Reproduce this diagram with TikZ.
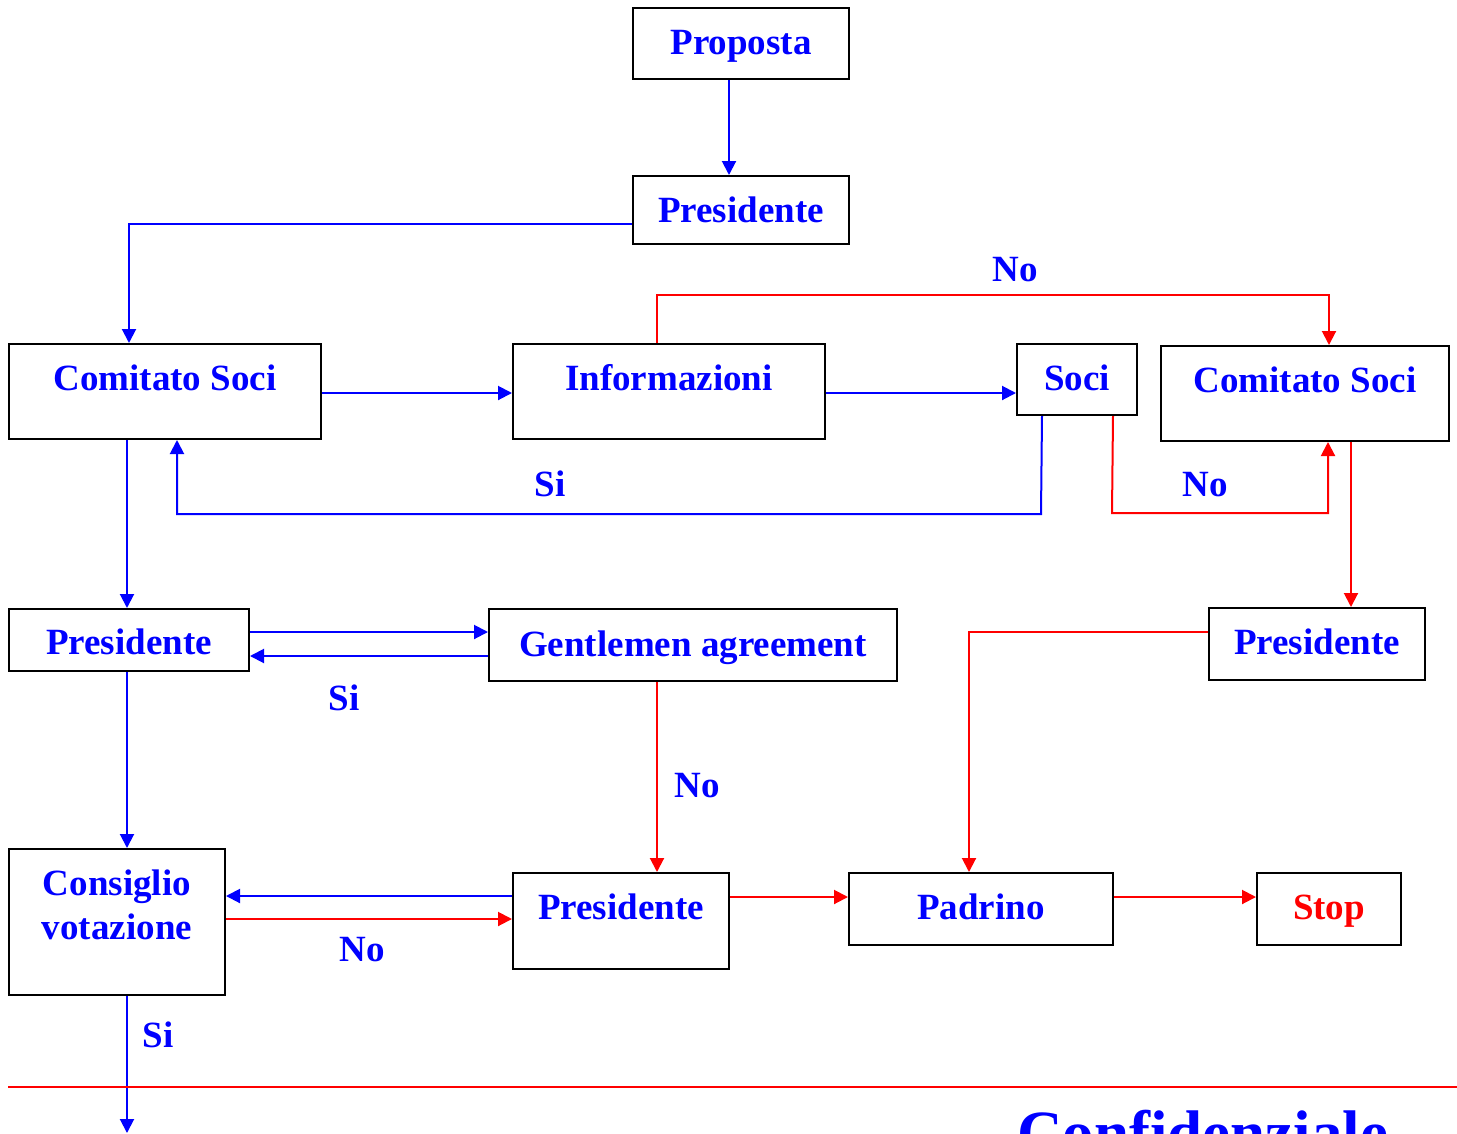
\documentclass[tikz,border=0pt]{standalone}
\usepackage{fontspec}
\setmainfont{Liberation Serif}
\usetikzlibrary{arrows.meta,calc}
\definecolor{fblue}{RGB}{0,0,255}
\definecolor{fred}{RGB}{255,0,0}
\tikzset{
  box/.style={draw=black, line width=2pt, inner sep=0pt, fill=white},
  txt/.style={font=\fontsize{37}{44}\selectfont\bfseries, text=fblue, inner sep=0pt, anchor=base},
  bline/.style={draw=fblue, line width=2pt},
  rline/.style={draw=fred, line width=2pt},
  barr/.style={bline, -{Triangle[length=14pt,width=14pt]}},
  rarr/.style={rline, -{Triangle[length=14pt,width=14pt]}},
}
\begin{document}
\begin{tikzpicture}[x=1pt,y=-1pt]
\useasboundingbox[fill=white] (0,0) rectangle (1457,1133);
% boxes
\node[box, minimum width=216pt, minimum height=71pt] (prop) at (741,43.5) {};
\node[box, minimum width=216pt, minimum height=68pt] (pres1) at (741,210) {};
\node[box, minimum width=312pt, minimum height=95pt] (cs1) at (165,391.5) {};
\node[box, minimum width=312pt, minimum height=95pt] (info) at (669,391.5) {};
\node[box, minimum width=120pt, minimum height=71pt] (soci) at (1077,379.5) {};
\node[box, minimum width=288pt, minimum height=95pt] (cs2) at (1305,393.5) {};
\node[box, minimum width=216pt, minimum height=72pt] (pres2) at (1317,644) {};
\node[box, minimum width=240pt, minimum height=62pt] (presL) at (129,640) {};
\node[box, minimum width=408pt, minimum height=72pt] (ga) at (693,645) {};
\node[box, minimum width=216pt, minimum height=146pt] (cons) at (117,922) {};
\node[box, minimum width=216pt, minimum height=96pt] (presM) at (621,921) {};
\node[box, minimum width=264pt, minimum height=72pt] (padr) at (981,909) {};
\node[box, minimum width=144pt, minimum height=72pt] (stop) at (1329,909) {};
% box texts
\node[txt] (tprop) at (741,54) {Proposta};
\node[txt] (tpres1) at (741,222) {Presidente};
\node[txt] (tcs1) at (165,390) {Comitato Soci};
\node[txt] (tinfo) at (669,390) {Informazioni};
\node[txt] (tsoci) at (1077,390) {Soci};
\node[txt] (tcs2) at (1305,392) {Comitato Soci};
\node[txt] (tpresL) at (129,654) {Presidente};
\node[txt] (tga) at (693,656) {Gentlemen agreement};
\node[txt] (tpres2) at (1317,654) {Presidente};
\node[txt] (tcons1) at (117,895) {Consiglio};
\node[txt] (tcons2) at (117,939) {votazione};
\node[txt] (tpresM) at (621,919) {Presidente};
\node[txt] (tpadr) at (981,919) {Padrino};
\node[txt, text=fred] (tstop) at (1329,919) {Stop};
% labels
\node[txt] (lno1) at (1015,281) {No};
\node[txt] (lsi1) at (550,496) {Si};
\node[txt] (lno2) at (1205,496) {No};
\node[txt] (lsi2) at (344,710) {Si};
\node[txt] (lno3) at (697,797) {No};
\node[txt] (lno4) at (362,961) {No};
\node[txt] (lsi3) at (158,1047) {Si};
% connectors
\draw[barr] ([xshift=-12pt]prop.south) -- ([xshift=-12pt]pres1.north);
\draw[barr] ([yshift=-14pt]pres1.west) -| ([xshift=-36pt]cs1.north);
\draw[barr] ([yshift=-1.5pt]cs1.east) -- ([yshift=-1.5pt]info.west);
\draw[barr] ([yshift=-1.5pt]info.east) -- ([yshift=-13.5pt]soci.west);
\draw[rarr] ([xshift=-12pt]info.north) -- ++(0,-48) -| ([xshift=24pt]cs2.north);
\draw[barr] ([xshift=-35pt]soci.south) -- ++(-1,98) -| ([xshift=12pt]cs1.south);
\draw[rarr] ([xshift=36pt]soci.south) -- ++(-1,97) -| ([xshift=23pt]cs2.south);
\draw[rarr] ([xshift=46pt]cs2.south) -- ([xshift=34pt]pres2.north);
\draw[rarr] ([yshift=12pt]pres2.west) -| ([xshift=-12pt]padr.north);
\draw[barr] ([xshift=-38pt]cs1.south) -- ([xshift=-2pt]presL.north);
\draw[barr] ([yshift=8pt]presL.east) -- ([yshift=13pt]ga.west);
\draw[barr] ([yshift=-11pt]ga.west) -- ([yshift=-16pt]presL.east);
\draw[rarr] ([xshift=-36pt]ga.south) -- ([xshift=36pt]presM.north);
\draw[barr] ([xshift=-2pt]presL.south) -- ([xshift=10pt]cons.north);
\draw[barr] ([yshift=25pt]presM.west) -- ([yshift=26pt]cons.east);
\draw[rarr] ([yshift=3pt]cons.east) -- ([yshift=2pt]presM.west);
\draw[rarr] ([yshift=24pt]presM.east) -- ([yshift=12pt]padr.west);
\draw[rarr] ([yshift=12pt]padr.east) -- ([yshift=12pt]stop.west);
\coordinate (bottomend) at (127,1133);
\draw[barr] ([xshift=10pt]cons.south) -- (bottomend);
% footer
\coordinate (fl) at (8,1087);
\coordinate (fr) at (1457,1087);
\draw[rline] (fl) -- (fr);
\node[font=\fontsize{63}{70}\selectfont\bfseries, text=fblue, inner sep=0pt, anchor=base west] (conf) at (1017,1154) {Confidenziale};
\end{tikzpicture}
\end{document}
